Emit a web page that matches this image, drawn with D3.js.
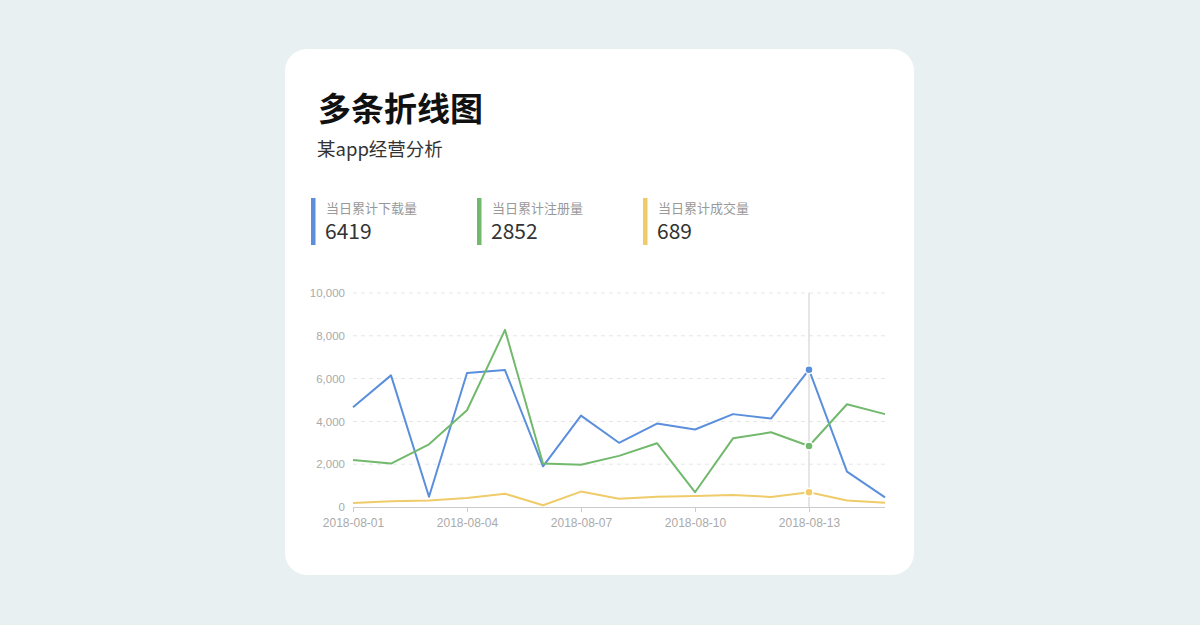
<!DOCTYPE html>
<html><head><meta charset="utf-8">
<script src="https://cdn.jsdelivr.net/npm/d3@7"></script>
<style>
html,body{margin:0;padding:0;background:#e8f0f2;}
svg{display:block;}
</style></head>
<body>
<svg id="c" width="1200" height="625"></svg>
<script>
const dates = ["2018-08-01","2018-08-02","2018-08-03","2018-08-04","2018-08-05","2018-08-06","2018-08-07","2018-08-08","2018-08-09","2018-08-10","2018-08-11","2018-08-12","2018-08-13","2018-08-14","2018-08-15"];
const downloads = [4660,6150,480,6260,6400,1900,4270,3000,3900,3620,4340,4130,6419,1650,450];
const registers = [2200,2030,2930,4520,8280,2030,1970,2390,2980,690,3210,3490,2852,4800,4340];
const deals = [190,265,300,420,620,80,720,390,480,515,560,470,689,300,200];
const seriesNames = ["当日累计下载量","当日累计注册量","当日累计成交量"];
const seriesColors = ["#5b8fdc","#72b96d","#efcb69"];
const yTicks = [0,2000,4000,6000,8000,10000];
const xTickLabels = ["2018-08-01","2018-08-04","2018-08-07","2018-08-10","2018-08-13"];
const activeDate = "2018-08-13";
const titleText = "多条折线图";
const subtitleText = "某app经营分析";

const series = [downloads, registers, deals];
const svg = d3.select("#c");
const font = "'Noto Sans CJK SC','Noto Sans',sans-serif";
const numFont = "'Liberation Sans','DejaVu Sans',sans-serif";

// card
svg.append("rect").attr("x",285).attr("y",49).attr("width",629).attr("height",526)
  .attr("rx",22).attr("fill","#ffffff");

svg.append("text").attr("x",318).attr("y",121).text(titleText)
  .attr("font-family",font).attr("font-size",33).attr("font-weight",700).attr("fill","#111");
svg.append("text").attr("x",317).attr("y",156).text(subtitleText)
  .attr("font-family",font).attr("font-size",18.5).attr("fill","#333");

// legend
const activeIdx = dates.indexOf(activeDate);
seriesNames.forEach((n,i)=>{
  const x0 = 311 + i*166;
  svg.append("rect").attr("x",x0).attr("y",198).attr("width",4.5).attr("height",47).attr("fill",seriesColors[i]);
  svg.append("text").attr("x",x0+15).attr("y",213).text(n)
    .attr("font-family",font).attr("font-size",13).attr("fill","#999");
  svg.append("text").attr("x",x0+14).attr("y",239).text(series[i][activeIdx])
    .attr("font-family",font).attr("font-size",21).attr("fill","#333");
});

// chart
const x = d3.scalePoint().domain(dates).range([353,885]);
const y = d3.scaleLinear().domain([0,10000]).range([507,293]);

const g = svg.append("g");
// grid
g.selectAll("line.grid").data(yTicks.filter(d=>d>0)).enter().append("line")
  .attr("x1",353).attr("x2",885).attr("y1",d=>y(d)).attr("y2",d=>y(d))
  .attr("stroke","#e6e6e6").attr("stroke-dasharray","4,4").attr("stroke-width",1);

// y axis labels
const yAxis = d3.axisLeft(y).tickValues(yTicks).tickFormat(d3.format(",")).tickSize(0).tickPadding(8);
const ya = svg.append("g").attr("transform","translate(353,0)").call(yAxis);
ya.select(".domain").remove();
ya.selectAll("text").attr("font-family",numFont).attr("font-size",11.5).attr("fill","#aaa");

// x axis
const xAxis = d3.axisBottom(x).tickValues(xTickLabels).tickSize(5).tickPadding(6);
const xa = svg.append("g").attr("transform","translate(0,507)").call(xAxis);
xa.select(".domain").attr("stroke","#ccc").attr("d","M353,0.5H885");
xa.selectAll(".tick line").attr("stroke","#ccc");
xa.selectAll("text").attr("font-family",numFont).attr("font-size",12).attr("fill","#aaa");

// crosshair
svg.append("line").attr("x1",x(activeDate)).attr("x2",x(activeDate)).attr("y1",293).attr("y2",507)
  .attr("stroke","#ccc").attr("stroke-width",1);

const line = d3.line().x((d,i)=>x(dates[i])).y(d=>y(d));
series.forEach((s,i)=>{
  svg.append("path").attr("d",line(s)).attr("fill","none")
    .attr("stroke",seriesColors[i]).attr("stroke-width",2).attr("stroke-linejoin","round");
});
series.forEach((s,i)=>{
  svg.append("circle").attr("cx",x(activeDate)).attr("cy",y(s[activeIdx])).attr("r",4)
    .attr("fill",seriesColors[i]).attr("stroke","#fff").attr("stroke-width",1.5);
});
</script>
</body></html>
